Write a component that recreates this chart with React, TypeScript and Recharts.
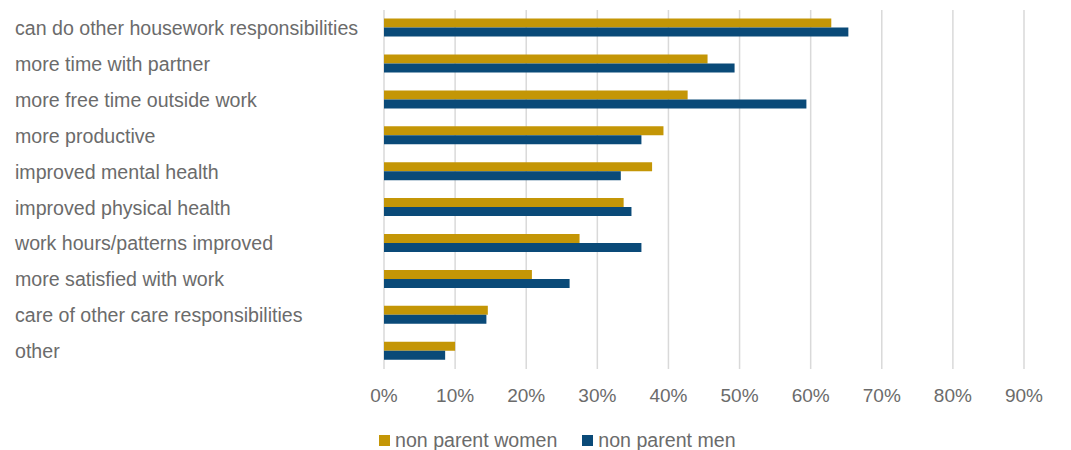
import { BarChart, Bar, XAxis, YAxis, CartesianGrid, Legend } from 'recharts';

const categories = [
  'can do other housework responsibilities',
  'more time with partner',
  'more free time outside work',
  'more productive',
  'improved mental health',
  'improved physical health',
  'work hours/patterns improved',
  'more satisfied with work',
  'care of other care responsibilities',
  'other',
];

const nonParentWomen = [0.629, 0.455, 0.427, 0.393, 0.377, 0.337, 0.275, 0.208, 0.146, 0.1];
const nonParentMen = [0.653, 0.493, 0.594, 0.362, 0.333, 0.348, 0.362, 0.261, 0.144, 0.086];

const xTicks = [0, 0.1, 0.2, 0.3, 0.4, 0.5, 0.6, 0.7, 0.8, 0.9];

const series = [
  { key: 'women', name: 'non parent women', color: '#C49606' },
  { key: 'men', name: 'non parent men', color: '#0A4A78' },
];

const data = categories.map((label, i) => ({
  label,
  women: nonParentWomen[i],
  men: nonParentMen[i],
}));

const FONT = '"Liberation Sans", Arial, sans-serif';
const TEXT = '#6B6B6B';

function CategoryTick({ y, payload }: any) {
  return (
    <text x={7} y={y} dy="0.36em" textAnchor="start" fill={TEXT} fontSize={19.6} fontFamily={FONT}>
      {payload.value}
    </text>
  );
}

function LegendContent() {
  return (
    <div style={{ display: 'flex', alignItems: 'center', fontFamily: FONT, fontSize: 19.6, color: TEXT }}>
      {series.map((s) => (
        <div key={s.key} style={{ display: 'flex', alignItems: 'center', marginRight: 25 }}>
          <span style={{ display: 'inline-block', width: 11, height: 11, background: s.color, marginRight: 5 }} />
          <span>{s.name}</span>
        </div>
      ))}
    </div>
  );
}

export default function App() {
  return (
    <BarChart
      width={1063}
      height={450}
      data={data}
      layout="vertical"
      margin={{ top: 2, right: 47, bottom: 36, left: 0 }}
      barCategoryGap="24%"
      barGap={0}
    >
      <CartesianGrid horizontal={false} stroke="#D9D9D9" strokeWidth={1.5} />
      <XAxis
        type="number"
        domain={[0, 0.9]}
        ticks={xTicks}
        tickFormatter={(v: number) => `${Math.round(v * 100)}%`}
        axisLine={false}
        tickLine={false}
        tickSize={0}
        tickMargin={20}
        height={30}
        tick={{ fill: TEXT, fontSize: 19, fontFamily: FONT }}
        interval={0}
      />
      <YAxis
        type="category"
        dataKey="label"
        width={376}
        axisLine={false}
        tickLine={false}
        tick={<CategoryTick />}
        interval={0}
      />
      <Legend
        content={<LegendContent />}
        wrapperStyle={{ position: 'absolute', left: 371, top: 421, width: 'auto' }}
      />
      {series.map((s) => (
        <Bar key={s.key} dataKey={s.key} name={s.name} fill={s.color} isAnimationActive={false} />
      ))}
    </BarChart>
  );
}
